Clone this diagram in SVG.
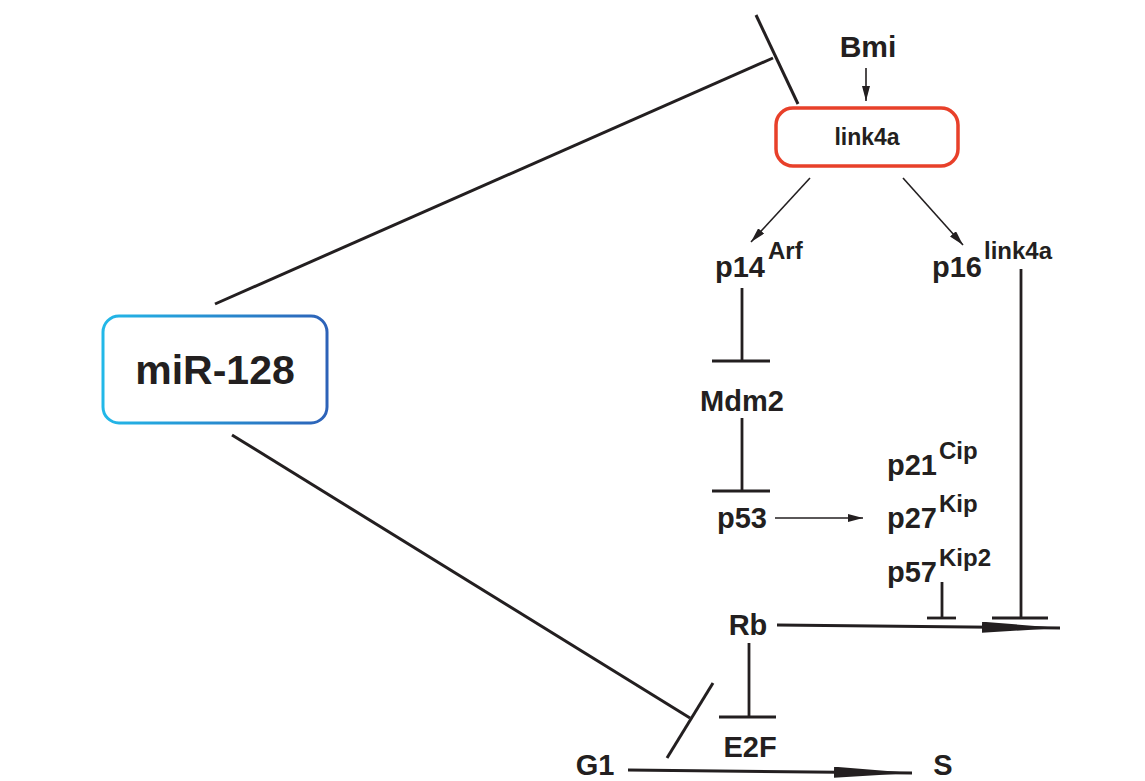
<svg xmlns="http://www.w3.org/2000/svg" width="1145" height="781" viewBox="0 0 1145 781">
<style>
  text { font-family: "Liberation Sans", Arial, sans-serif; font-weight: bold; fill: #231f20; }
  .lbl { font-size: 29px; }
  .sup { font-size: 24px; }
  .ln { stroke: #231f20; fill: none; stroke-width: 3; }
  .thin { stroke: #231f20; fill: none; stroke-width: 1.6; }
  .inh { stroke: #231f20; fill: none; stroke-width: 2.8; }
</style>
<defs>
  <linearGradient id="blueGrad" x1="0" y1="0" x2="1" y2="0">
    <stop offset="0" stop-color="#22b8e8"/>
    <stop offset="1" stop-color="#2d62b8"/>
  </linearGradient>
  <marker id="small" markerUnits="userSpaceOnUse" markerWidth="16" markerHeight="8" refX="15" refY="4" orient="auto">
    <path d="M0,0 L15,4 L0,8 z" fill="#231f20"/>
  </marker>
  <marker id="long" markerUnits="userSpaceOnUse" markerWidth="80" markerHeight="12" refX="78" refY="5.5" orient="auto">
    <path d="M0,0 L78,5.5 L0,11 z" fill="#231f20"/>
  </marker>
</defs>
<rect width="1145" height="781" fill="#ffffff"/>

<g id="connectors">
  <line class="ln" x1="215" y1="304" x2="773" y2="58"/>
  <line class="ln" x1="756" y1="15" x2="798" y2="104"/>
  <line class="ln" x1="232" y1="435" x2="690" y2="718"/>
  <line class="ln" x1="713" y1="683" x2="667" y2="758"/>
  <line class="thin" x1="866" y1="68" x2="866" y2="101" marker-end="url(#small)"/>
  <line class="thin" x1="810" y1="178" x2="751" y2="242" marker-end="url(#small)"/>
  <line class="thin" x1="903" y1="178" x2="963" y2="245" marker-end="url(#small)"/>
  <line class="inh" x1="742" y1="288" x2="742" y2="361"/>
  <line class="inh" x1="712" y1="361" x2="770" y2="361"/>
  <line class="inh" x1="742" y1="418" x2="742" y2="491"/>
  <line class="inh" x1="712" y1="491" x2="770" y2="491"/>
  <line class="thin" x1="775" y1="518" x2="863" y2="518" marker-end="url(#small)"/>
  <line class="inh" x1="1021" y1="269" x2="1021" y2="618"/>
  <line class="inh" x1="992" y1="618" x2="1048" y2="618"/>
  <line class="inh" x1="942" y1="582" x2="942" y2="618"/>
  <line class="inh" x1="927" y1="618" x2="956" y2="618"/>
  <line class="ln" x1="777" y1="625" x2="1060" y2="628" marker-end="url(#long)"/>
  <line class="inh" x1="749" y1="643" x2="749" y2="717"/>
  <line class="inh" x1="719" y1="717" x2="776" y2="717"/>
  <line class="ln" x1="628" y1="770" x2="912" y2="773" marker-end="url(#long)"/>
</g>

<g id="miR-128">
  <rect x="103" y="316" width="224" height="107" rx="16" ry="16" fill="#ffffff" stroke="url(#blueGrad)" stroke-width="3"/>
  <text x="215" y="384" text-anchor="middle" font-size="41">miR-128</text>
</g>

<g id="Bmi">
  <text x="868" y="57" text-anchor="middle" font-size="30">Bmi</text>
</g>

<g id="link4a">
  <rect x="776" y="108" width="182" height="58" rx="17" ry="17" fill="#ffffff" stroke="#e8402a" stroke-width="3.5"/>
  <text x="867" y="145" text-anchor="middle" font-size="23">link4a</text>
</g>

<g id="p14Arf">
  <text class="lbl" x="715" y="277">p14<tspan class="sup" dx="3" dy="-18">Arf</tspan></text>
</g>

<g id="p16link4a">
  <text class="lbl" x="932" y="277">p16<tspan class="sup" dx="2" dy="-18">link4a</tspan></text>
</g>

<g id="Mdm2">
  <text class="lbl" x="742" y="411" text-anchor="middle">Mdm2</text>
</g>

<g id="p53">
  <text class="lbl" x="717" y="528">p53</text>
</g>

<g id="p21Cip">
  <text class="lbl" x="887" y="475">p21<tspan class="sup" dx="2" dy="-16">Cip</tspan></text>
</g>

<g id="p27Kip">
  <text class="lbl" x="887" y="528">p27<tspan class="sup" dx="2" dy="-16">Kip</tspan></text>
</g>

<g id="p57Kip2">
  <text class="lbl" x="887" y="582">p57<tspan class="sup" dx="2" dy="-16">Kip2</tspan></text>
</g>

<g id="Rb">
  <text class="lbl" x="748" y="635" text-anchor="middle">Rb</text>
</g>

<g id="E2F">
  <text class="lbl" x="750" y="757" text-anchor="middle">E2F</text>
</g>

<g id="G1">
  <text class="lbl" x="595" y="775" text-anchor="middle">G1</text>
</g>

<g id="S">
  <text class="lbl" x="943" y="775" text-anchor="middle">S</text>
</g>
</svg>
